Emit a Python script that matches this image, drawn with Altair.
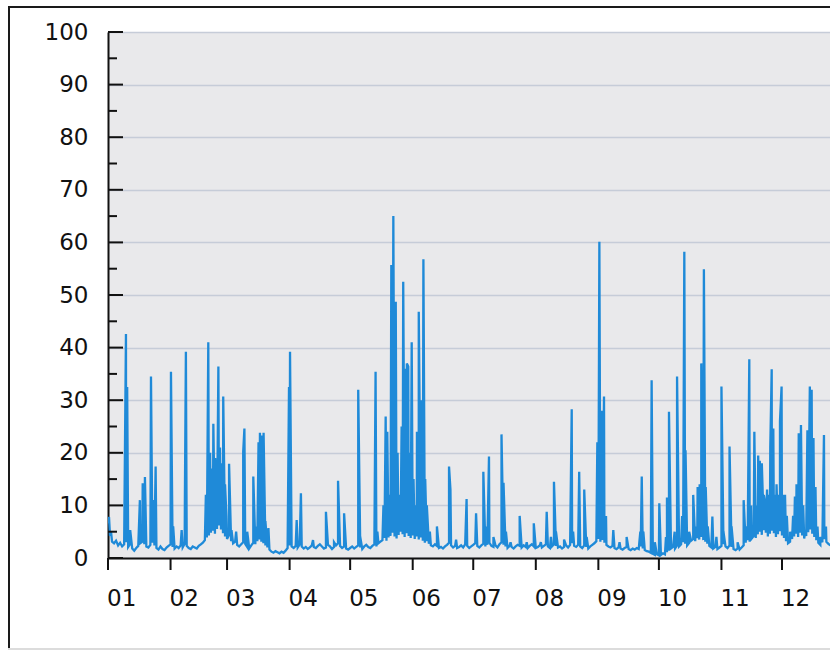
import altair as alt
import pandas as pd

# ---- data ----
year = 2021
month_numbers = [1, 2, 3, 4, 5, 6, 7, 8, 9, 10, 11, 12]
month_labels = ["01", "02", "03", "04", "05", "06", "07", "08", "09", "10", "11", "12"]
y_major_ticks = [0, 10, 20, 30, 40, 50, 60, 70, 80, 90, 100]
y_minor_ticks = [5, 15, 25, 35, 45, 55, 65, 75, 85, 95]

# daily background level, day 0 = 1 January
baseline = [
    6.5, 4.2, 3.1, 2.8, 3.3, 2.4, 2.9, 2.2, 2.6, 3.0, 2.1, 2.7, 1.8, 1.4, 1.9, 2.3, 2.8, 3.1, 2.6, 2.2,
    2.0, 2.5, 2.9, 2.4, 1.9, 1.6, 2.2, 1.7, 1.5, 2.0, 2.3, 2.6, 2.1, 1.8, 2.2, 1.9, 2.4, 2.0, 2.7, 2.3,
    1.9, 1.7, 2.2, 2.0, 1.8, 2.3, 2.6, 2.9, 3.4, 3.9, 4.3, 4.8, 5.2, 4.6, 5.5, 6.2, 5.4, 4.7, 4.1, 3.6,
    4.4, 3.2, 2.8, 3.1, 2.5, 2.2, 2.6, 3.0, 2.7, 2.1, 1.8, 2.4, 2.9, 2.6, 3.2, 3.5, 3.1, 2.8, 2.4, 2.0,
    1.6, 1.2, 1.0, 1.3, 1.1, 0.9, 1.2, 1.0, 1.4, 1.9, 2.4, 2.2, 1.9, 2.3, 2.0, 2.6, 2.2, 1.8, 2.1, 1.7,
    2.0, 2.4, 2.1, 1.9, 2.3, 2.6, 2.2, 1.8, 2.0, 2.5, 2.2, 1.7, 2.1, 2.4, 2.8, 2.3, 1.9, 2.2, 1.8, 1.6,
    1.9, 2.2, 1.8, 2.1, 2.4, 2.0, 1.7, 2.2, 2.5, 2.1, 1.9, 2.3, 2.6, 2.2, 2.8, 3.1, 3.4, 3.8, 3.3, 3.9,
    4.2, 4.8, 4.1, 3.7, 4.4, 5.0, 4.5, 4.0, 4.7, 4.2, 3.8, 4.3, 3.6, 4.1, 3.5, 3.9, 3.3, 2.9, 3.2, 2.7,
    2.4, 2.2, 2.6, 2.3, 1.9, 2.1, 1.8, 2.2, 2.5, 2.9, 2.4, 2.0, 2.3, 1.9, 2.1, 2.4, 2.0, 2.6, 2.3, 1.9,
    2.2, 2.5, 2.8, 2.3, 2.0, 2.4, 2.7, 2.2, 2.5, 2.9, 2.3, 2.1, 2.4, 2.0, 2.6, 3.0, 2.5, 2.2, 1.9, 2.3,
    2.1, 1.8, 2.2, 2.5, 2.3, 2.0, 2.4, 2.1, 1.9, 2.3, 2.6, 2.2, 1.9, 2.1, 2.4, 2.0, 2.3, 2.6, 2.2, 1.9,
    2.2, 2.6, 2.3, 2.0, 2.2, 1.8, 2.1, 2.4, 2.0, 2.5, 2.8, 2.3, 2.1, 2.5, 2.2, 1.9, 2.4, 2.1, 1.8, 2.2,
    2.5, 2.8, 3.2, 3.6, 3.1, 3.4, 2.9, 2.5, 2.2, 2.0, 2.3, 1.9, 1.7, 2.0, 1.8, 1.6, 1.9, 2.1, 1.7, 1.5,
    1.8, 1.6, 1.9, 1.7, 2.2, 1.8, 1.5, 1.3, 1.2, 1.0, 0.8, 0.6, 0.7, 0.5, 0.6, 0.9, 0.7, 1.1, 1.4, 1.8,
    2.1, 1.8, 2.4, 2.2, 2.6, 3.0, 2.7, 2.4, 2.9, 3.3, 3.6, 3.2, 3.8, 3.5, 4.0, 3.4, 3.1, 2.7, 2.3, 2.0,
    1.8, 2.1, 1.7, 2.0, 2.3, 2.6, 2.2, 1.9, 2.4, 2.1, 1.7, 1.5, 1.8, 1.6, 2.0, 2.4, 2.9, 3.4, 3.1, 3.7,
    4.2, 3.8, 4.5, 5.0, 4.4, 5.3, 4.8, 4.1, 4.6, 5.2, 4.7, 4.0, 4.5, 5.1, 4.3, 3.8, 3.2, 2.8, 3.1, 3.6,
    4.1, 4.6, 4.0, 4.8, 4.3, 3.7, 4.2, 4.9, 5.4, 4.6, 4.0, 3.4, 2.9, 2.5, 3.0, 3.6, 3.1, 2.7, 2.4,
]

# short peaks: day of year (fractional) and peak value
spike_days = [
    0.5, 1.5, 8.9, 9.5, 11.0, 15.8, 17.2, 18.3, 21.3, 22.4, 23.6, 31.2, 32.3, 36.5, 38.1, 38.6,
    48.5, 49.7, 50.6, 51.4, 52.2, 53.1, 53.8, 54.7, 55.5, 56.3, 57.1, 58.0, 58.7, 60.0, 61.2, 63.5,
    67.0, 67.6, 69.0, 72.0, 73.2, 74.6, 75.3, 76.2, 77.1, 78.0, 79.5, 89.7, 90.2, 93.5, 95.6,
    101.6, 108.0, 112.0, 114.0, 117.0, 124.0, 125.0, 132.6, 133.5, 136.5, 137.6, 138.4, 139.3,
    140.4, 141.4, 142.6, 143.5, 144.4, 145.5, 146.3, 147.2, 148.1, 148.8, 149.6, 150.5, 151.4,
    152.4, 153.1, 154.0, 155.5, 156.3, 157.2, 158.0, 159.5, 163.0, 169.0, 169.7, 172.5, 177.7,
    182.4, 186.0, 187.5, 188.8, 191.0, 195.0, 196.0, 197.2, 199.5, 204.0, 207.5, 211.0, 214.5,
    217.4, 219.5, 221.0, 222.0, 226.0, 229.8, 230.5, 233.5, 236.0, 237.2, 242.5, 243.5, 244.6,
    245.8, 246.8, 250.4, 253.5, 257.0, 263.8, 264.5, 265.3, 269.4, 271.0, 273.2, 276.5, 277.0,
    278.0, 280.8, 282.0, 284.5, 285.6, 286.2, 288.0, 290.0, 291.2, 292.2, 293.2, 294.0, 295.3,
    296.2, 297.2, 299.5, 301.5, 304.0, 305.0, 308.0, 309.0, 312.0, 315.0, 316.5, 317.8, 318.7,
    320.3, 321.2, 322.2, 323.0, 324.0, 325.0, 325.8, 326.6, 327.4, 328.2, 328.9, 329.7, 330.5,
    331.3, 332.2, 333.0, 333.8, 334.6, 335.5, 336.4, 338.0, 339.5, 340.4, 341.2, 342.3, 343.4,
    344.5, 345.5, 346.6, 347.8, 348.7, 349.6, 350.6, 351.6, 353.0, 354.8, 355.8,
]
spike_values = [
    7.8, 5.0, 42.6, 32.5, 5.3, 11.0, 14.2, 15.4, 34.5, 11.0, 17.4, 35.4, 6.0, 5.3, 11.0, 39.2,
    12.0, 41.0, 20.0, 17.0, 25.5, 19.0, 15.0, 36.4, 21.0, 18.0, 30.7, 14.0, 8.0, 17.9, 5.3, 5.0,
    20.2, 24.6, 5.0, 15.5, 6.0, 22.0, 23.8, 23.3, 23.8, 7.0, 5.7, 32.5, 39.2, 7.2, 12.3,
    3.4, 8.8, 3.0, 14.7, 8.5, 32.0, 4.0, 35.4, 5.0, 10.0, 26.9, 24.0, 12.0,
    55.7, 65.0, 48.7, 20.0, 12.0, 25.0, 52.5, 36.0, 37.0, 36.4, 20.0, 41.0, 15.0,
    10.0, 24.0, 46.8, 30.0, 56.8, 15.0, 10.0, 5.0, 6.0, 17.4, 13.0, 3.5, 11.2,
    8.5, 16.4, 6.0, 19.3, 4.0, 23.5, 14.3, 5.0, 3.0, 8.0, 3.0, 6.6, 3.0,
    8.8, 4.0, 14.5, 5.0, 3.5, 28.3, 5.0, 16.4, 13.0, 4.0, 22.0, 60.1, 28.0,
    30.7, 8.0, 5.3, 3.0, 4.0, 5.0, 15.5, 5.0, 33.8, 3.0, 10.4, 4.0, 11.5,
    27.8, 5.0, 34.5, 8.0, 58.2, 20.5, 5.0, 12.0, 6.0, 13.5, 14.0, 37.0, 54.9,
    13.5, 6.0, 7.9, 4.0, 32.6, 5.0, 21.2, 6.0, 3.0, 11.0, 6.0, 37.8, 10.0,
    24.0, 10.0, 19.5, 18.5, 18.0, 12.0, 10.0, 13.0, 12.0, 21.0, 35.9, 24.6, 12.0,
    14.0, 12.0, 26.0, 32.6, 12.0, 12.0, 8.0, 5.0, 8.0, 11.7, 14.0, 23.7, 25.3,
    10.0, 5.0, 24.3, 32.6, 32.0, 22.8, 13.5, 6.0, 4.0, 23.4, 6.0,
]

# ---- tables ----
rows = [(float(d), v) for d, v in enumerate(baseline)] + list(zip(spike_days, spike_values))
rows.sort()
df = pd.DataFrame(rows, columns=["day", "value"])
df["time"] = pd.Timestamp(f"{year}-01-01") + pd.to_timedelta(df["day"], unit="D")
df = df[["time", "value"]]

months_df = pd.DataFrame({
    "time": [pd.Timestamp(year=year, month=m, day=1) for m in month_numbers],
    "label": month_labels,
})

FONT = "DejaVu Sans"
W, H = 722, 526
y_scale = alt.Scale(domain=[0, 100], nice=False, zero=True)
x_scale = alt.Scale(
    domain=[alt.DateTime(year=year, month=1, date=1),
            alt.DateTime(year=year, month=12, date=24, hours=19)],
    nice=False,
)

y_axis = alt.Axis(
    values=y_major_ticks,
    ticks=False,
    tickSize=0,
    labelPadding=20,
    labelFont=FONT,
    labelFontSize=23,
    labelColor="#111111",
    domainColor="#111111",
    domainWidth=2,
    grid=True,
    gridColor="#c6ccd8",
    gridWidth=1.5,
    title=None,
)
x_axis = alt.Axis(
    labels=False,
    ticks=False,
    tickSize=0,
    domainColor="#111111",
    domainWidth=2,
    grid=False,
    title=None,
)

line = alt.Chart(df).mark_line(color="#1f8ad8", strokeWidth=2.3, clip=True).encode(
    x=alt.X("time:T", scale=x_scale, title=None, axis=x_axis),
    y=alt.Y("value:Q", scale=y_scale, title=None, axis=y_axis),
)

x_ticks = alt.Chart(months_df).mark_rule(color="#111111", strokeWidth=2).encode(
    x=alt.X("time:T", scale=x_scale, title=None, axis=x_axis),
    y=alt.value(H),
    y2=alt.value(H + 12),
)
x_labels = alt.Chart(months_df).mark_text(
    align="left", baseline="alphabetic", font=FONT, fontSize=23, color="#111111", dx=-1
).encode(
    x=alt.X("time:T", scale=x_scale, title=None, axis=x_axis),
    y=alt.value(H + 48),
    text="label:N",
)

major = alt.Chart(pd.DataFrame({"value": y_major_ticks})).mark_rule(color="#111111", strokeWidth=2).encode(
    y=alt.Y("value:Q", scale=y_scale, title=None, axis=y_axis),
    x=alt.value(0),
    x2=alt.value(15),
)
minor = alt.Chart(pd.DataFrame({"value": y_minor_ticks})).mark_rule(color="#111111", strokeWidth=2).encode(
    y=alt.Y("value:Q", scale=y_scale, title=None, axis=y_axis),
    x=alt.value(0),
    x2=alt.value(9),
)

one = alt.InlineData(values=[{"k": 0}])
frame_top = alt.Chart(one).mark_rule(color="#1a1a1a", strokeWidth=2).encode(
    x=alt.value(-100), x2=alt.value(W), y=alt.value(-25)
)
frame_left = alt.Chart(one).mark_rule(color="#1a1a1a", strokeWidth=2).encode(
    x=alt.value(-99), y=alt.value(-26), y2=alt.value(618)
)
frame_bottom = alt.Chart(one).mark_rule(color="#dcdcdc", strokeWidth=2).encode(
    x=alt.value(-100), x2=alt.value(W), y=alt.value(617)
)

chart = (
    alt.layer(line, x_ticks, x_labels, major, minor, frame_top, frame_left, frame_bottom)
    .properties(
        width=W,
        height=H,
        padding={"left": 108, "top": 32, "right": 0, "bottom": 94},
        autosize=alt.AutoSizeParams(type="none"),
        background="white",
    )
    .configure_view(fill="#e9e9eb", stroke=None)
)

chart.save("out.html", embed_options={"renderer": "svg", "actions": False})
